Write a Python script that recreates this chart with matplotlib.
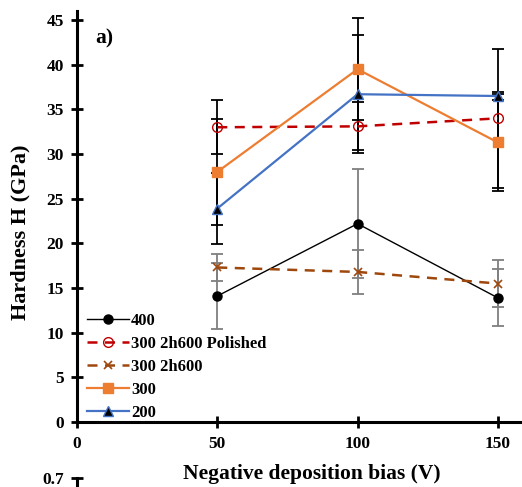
import numpy as np
import matplotlib
matplotlib.use('Agg')
import matplotlib.pyplot as plt

plt.rcParams['font.family'] = ['Liberation Serif', 'DejaVu Serif']
plt.rcParams['font.weight'] = 'bold'

# --- dane ---
bias = [50, 100, 150]
labels = ['400', '300 2h600 Polished', '300 2h600', '300', '200']
h_400 = [14.1, 22.2, 13.9]
err_400 = [3.7, 6.1, 3.2]
h_pol = [33.0, 33.1, 34.0]
err_pol = [3.0, 2.7, 7.8]
h_2h600 = [17.3, 16.8, 15.5]
err_2h600 = [1.5, 2.5, 2.6]
h_300 = [28.0, 39.5, 31.3]
err_300 = [5.9, 5.7, 5.4]
h_200 = [23.9, 36.7, 36.5]
err_200 = [4.0, 6.6, 0.5]

series = [
    (h_400, err_400, dict(color='black', lw=1.0, ls='-', marker='o', ms=6.5,
                          mfc='black', mec='black'), '#7f7f7f'),
    (h_pol, err_pol, dict(color='#C00000', lw=1.8, ls=(0, (4, 3)), marker='o', ms=7,
                          mfc='none', mec='#C00000', mew=1.0), 'black'),
    (h_2h600, err_2h600, dict(color='#9E480E', lw=1.8, ls=(0, (4, 3)), marker='x', ms=6,
                              mec='#9E480E', mew=1.2), '#7f7f7f'),
    (h_300, err_300, dict(color='#ED7D31', lw=1.6, ls='-', marker='s', ms=7,
                          mfc='#ED7D31', mec='#ED7D31'), 'black'),
    (h_200, err_200, dict(color='#4472C4', lw=1.6, ls='-', marker='^', ms=6.5,
                          mfc='black', mec='#4472C4', mew=1.0), 'black'),
]

fig = plt.figure(figsize=(5.22, 4.87), dpi=100)
ax = fig.add_axes([0.1475, 0.1335, 0.86, 0.8436])

# słupki błędów pod liniami
for vals, errs, style, ecol in series:
    ax.errorbar(bias, vals, yerr=errs, fmt='none', ecolor=ecol, elinewidth=1.3,
                capsize=4, capthick=1.3, zorder=1)

for (vals, errs, style, ecol), lab in zip(series, labels):
    ax.plot(bias, vals, label=lab, zorder=3, **style)

ax.set_xlim(0, 160)
ax.set_ylim(0, 46)
ax.set_xticks([0, 50, 100, 150])
ax.set_yticks(np.arange(0, 46, 5))
for s in ['top', 'right']:
    ax.spines[s].set_visible(False)
for s in ['left', 'bottom']:
    ax.spines[s].set_linewidth(2.2)
ax.tick_params(direction='inout', length=8, width=2, labelsize=12.5)
ax.tick_params(axis='y', pad=5.5)
ax.tick_params(axis='x', pad=6)
for t in ax.get_xticklabels() + ax.get_yticklabels():
    t.set_fontweight('bold')

ax.set_xlabel('Negative deposition bias (V)', fontsize=15.5, fontweight='bold')
ax.xaxis.set_label_coords(0.523, -0.102)
ax.set_ylabel('Hardness H (GPa)', fontsize=16, fontweight='bold')
ax.yaxis.set_label_coords(-0.103, 0.462)
ax.text(0.04, 0.958, 'a)', transform=ax.transAxes, fontsize=15.5, fontweight='bold',
        va='top', ha='left')

leg = ax.legend(loc='lower left', bbox_to_anchor=(0.0, -0.022), frameon=False,
                fontsize=12, handlelength=2.55, handletextpad=0.1, labelspacing=0.42,
                borderaxespad=0.2)
for t in leg.get_texts():
    t.set_fontweight('bold')

# fragment dolnego wykresu (b)
ax2 = fig.add_axes([0.1475, -0.5, 0.86, 0.519])
ax2.set_ylim(0, 0.7)
ax2.set_yticks([0.7])
ax2.set_yticklabels(['0.7'])
ax2.set_xticks([])
for s in ['top', 'right', 'bottom']:
    ax2.spines[s].set_visible(False)
ax2.spines['left'].set_linewidth(2.2)
ax2.tick_params(direction='inout', length=8, width=2, labelsize=12.5, pad=5.5)
ax2.patch.set_alpha(0)
for t in ax2.get_yticklabels():
    t.set_fontweight('bold')

fig.savefig('out.png', dpi=100)
